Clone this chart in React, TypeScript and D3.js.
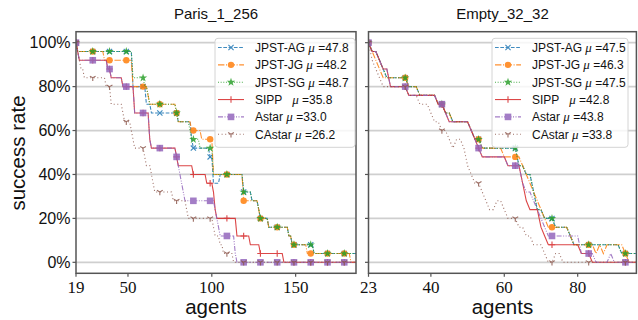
import React from "react";
import * as d3 from "d3";

type Pt = [number, number];

const seriesNames = ["JPST-AG", "JPST-JG", "JPST-SG", "SIPP", "Astar", "CAstar"];
const parisMeans = [47.8, 48.2, 48.7, 35.8, 33.0, 26.2];
const emptyMeans = [47.5, 46.3, 47.5, 42.8, 43.8, 33.8];
const parisTicks = [19, 50, 100, 150];
const emptyTicks = [23, 40, 60, 80];
const yTicks = [0, 20, 40, 60, 80, 100];

// success rate (%) at the agent counts where each curve bends
const parisAG: Pt[] = [[19,100],[20,96],[52,96],[53,80],[60,80],[61,72],[63,72],[64,68],[79,68],[80,64],[87,64],[88,56],[89,52],[98,52],[99,48],[100,48],[101,36],[104,36],[105,40],[118,40],[119,32],[123,32],[124,28],[127,28],[128,24],[129,20],[133,20],[134,16],[145,16],[146,12],[147,12],[148,8],[160,8],[161,4],[186,4]];
const parisJG: Pt[] = [[19,100],[20,96],[35,96],[36,92],[52,92],[53,80],[61,80],[62,76],[63,72],[78,72],[79,68],[80,64],[87,64],[88,60],[93,60],[94,56],[100,56],[101,40],[118,40],[119,28],[127,28],[128,24],[129,20],[133,20],[134,16],[145,16],[146,12],[147,12],[148,8],[156,8],[157,4],[182,4],[183,0],[186,0]];
const parisSG: Pt[] = [[19,100],[20,96],[52,96],[53,84],[59,84],[60,80],[61,80],[62,76],[63,72],[78,72],[79,68],[80,64],[86,64],[87,60],[88,56],[92,56],[93,52],[100,52],[101,40],[118,40],[119,32],[123,32],[124,28],[127,28],[128,24],[129,20],[133,20],[134,16],[145,16],[146,12],[147,12],[148,8],[160,8],[161,4],[186,4]];
const parisSIPP: Pt[] = [[19,100],[20,96],[21,92],[37,92],[38,88],[39,88],[40,84],[46,84],[47,80],[53,80],[54,68],[62,68],[63,56],[64,52],[78,52],[79,48],[80,44],[88,44],[89,40],[96,40],[97,36],[100,36],[101,32],[102,24],[103,20],[114,20],[115,12],[122,12],[123,8],[128,8],[129,4],[142,4],[143,0],[186,0]];
const parisAstar: Pt[] = [[19,100],[20,96],[21,92],[37,92],[38,88],[39,88],[40,84],[46,84],[47,80],[53,80],[54,68],[62,68],[63,56],[64,52],[78,52],[79,48],[80,44],[81,40],[82,36],[83,32],[84,28],[101,28],[102,24],[103,20],[104,16],[105,12],[113,12],[114,4],[115,0],[186,0]];
const parisCAstar: Pt[] = [[19,100],[20,96],[21,92],[22,88],[23,88],[24,84],[36,84],[37,80],[39,80],[40,72],[46,72],[47,68],[48,64],[51,64],[52,60],[53,56],[54,52],[59,52],[60,48],[61,44],[63,44],[64,40],[65,36],[66,32],[76,32],[77,28],[84,28],[85,24],[86,20],[100,20],[101,16],[102,12],[104,12],[105,8],[106,8],[107,4],[112,4],[113,0],[186,0]];

const emptyAG: Pt[] = [[23,100],[24,96],[25,96],[26,92],[27,88],[28,84],[33,84],[34,80],[36,80],[37,76],[41,76],[42,72],[43,72],[44,68],[45,68],[46,64],[50,64],[51,60],[52,56],[53,56],[54,52],[63,52],[64,44],[65,44],[66,40],[67,40],[68,32],[69,24],[70,24],[71,20],[73,20],[74,16],[77,16],[78,12],[79,8],[91,8],[92,4],[96,4]];
const emptyJG: Pt[] = [[23,100],[24,96],[25,92],[26,88],[27,84],[33,84],[34,80],[36,80],[37,76],[41,76],[42,72],[43,72],[44,68],[45,68],[46,64],[50,64],[51,60],[52,56],[53,56],[54,52],[59,52],[60,48],[64,48],[65,44],[66,40],[67,36],[68,32],[69,28],[70,24],[71,20],[72,16],[77,16],[78,12],[79,8],[84,8],[85,4],[86,8],[87,4],[88,8],[92,8],[93,4],[94,0],[96,0]];
const emptySG: Pt[] = [[23,100],[24,96],[25,96],[26,92],[27,88],[28,84],[33,84],[34,80],[36,80],[37,76],[41,76],[42,72],[43,72],[44,68],[45,68],[46,64],[50,64],[51,60],[52,56],[53,56],[54,52],[63,52],[64,44],[65,44],[66,40],[67,40],[68,32],[69,24],[70,24],[71,20],[73,20],[74,16],[77,16],[78,12],[79,8],[91,8],[92,4],[96,4]];
const emptySIPP: Pt[] = [[23,100],[24,96],[25,96],[26,92],[27,88],[28,88],[29,80],[33,80],[34,76],[41,76],[42,72],[43,72],[44,68],[45,64],[50,64],[51,60],[52,56],[53,52],[54,48],[60,48],[61,44],[64,44],[65,36],[66,28],[67,24],[69,24],[70,16],[71,12],[72,8],[80,8],[81,4],[83,4],[84,0],[96,0]];
const emptyAstar: Pt[] = [[23,100],[24,96],[25,96],[26,92],[27,88],[28,88],[29,80],[33,80],[34,76],[41,76],[42,72],[43,72],[44,68],[45,64],[50,64],[51,60],[52,56],[53,52],[54,48],[60,48],[61,44],[64,44],[65,36],[66,32],[67,32],[68,28],[69,24],[70,20],[71,16],[72,12],[80,12],[81,4],[84,4],[85,0],[88,0],[89,4],[90,0],[96,0]];
const emptyCAstar: Pt[] = [[23,100],[24,92],[25,88],[26,84],[27,80],[33,80],[34,76],[36,76],[37,72],[39,72],[40,68],[41,64],[42,64],[43,60],[44,60],[45,56],[46,52],[47,56],[48,56],[49,52],[50,44],[51,40],[52,36],[53,36],[54,32],[55,28],[56,24],[57,24],[58,28],[59,28],[60,24],[61,20],[63,20],[64,16],[65,16],[66,12],[67,12],[68,8],[70,8],[71,4],[72,0],[73,0],[74,4],[75,4],[76,0],[96,0]];

const colors = ["#1f77b4", "#ff7f0e", "#2ca02c", "#d62728", "#9467bd", "#8c564b"];
const dashes = ["3.7,1.6", "6.4,1.6,1,1.6", "1,1.65", "none", "5,1.5,1,1.5,1,1.5", "1,2.6"];
const markerKinds = ["x", "o", "*", "+", "s", "1"];

const W = 638, H = 320;
const yTop = 31.7, yBot = 273.3;
const y = d3.scaleLinear().domain([-5, 105]).range([yBot, yTop]);

const panels = [
  { title: "Paris_1_256", x0: 76, x1: 356, domain: [19, 186], ticks: parisTicks, means: parisMeans,
    series: [parisAG, parisJG, parisSG, parisSIPP, parisAstar, parisCAstar], legendX: 215, legendW: 140, yLabels: true },
  { title: "Empty_32_32", x0: 368.5, x1: 636.4, domain: [23, 96], ticks: emptyTicks, means: emptyMeans,
    series: [emptyAG, emptyJG, emptySG, emptySIPP, emptyAstar, emptyCAstar], legendX: 492, legendW: 136, yLabels: false },
];

function valueAt(pts: Pt[], a: number) {
  for (let i = 0; i < pts.length - 1; i++) {
    const [a0, v0] = pts[i];
    const [a1, v1] = pts[i + 1];
    if (a >= a0 && a <= a1) return a1 === a0 ? v1 : v0 + ((v1 - v0) * (a - a0)) / (a1 - a0);
  }
  return pts[pts.length - 1][1];
}

const starPath = d3.symbol(d3.symbolStar, 22)() as string;

function Marker({ kind, cx, cy, color }: { kind: string; cx: number; cy: number; color: string }) {
  if (kind === "x")
    return <path d={`M${cx - 2.6},${cy - 2.6}L${cx + 2.6},${cy + 2.6}M${cx - 2.6},${cy + 2.6}L${cx + 2.6},${cy - 2.6}`} stroke={color} strokeWidth={1.1} />;
  if (kind === "o") return <circle cx={cx} cy={cy} r={3.2} fill={color} />;
  if (kind === "*") return <path transform={`translate(${cx},${cy})`} d={starPath} fill={color} />;
  if (kind === "+")
    return <path d={`M${cx - 3.2},${cy}H${cx + 3.2}M${cx},${cy - 3.2}V${cy + 3.2}`} stroke={color} strokeWidth={1.1} />;
  if (kind === "s") return <rect x={cx - 3.3} y={cy - 3.3} width={6.6} height={6.6} fill={color} />;
  return <path d={`M${cx},${cy}V${cy + 3.3}M${cx},${cy}L${cx - 2.9},${cy - 1.7}M${cx},${cy}L${cx + 2.9},${cy - 1.7}`} stroke={color} strokeWidth={1.1} />;
}

function Panel({ p, idx }: { p: (typeof panels)[number]; idx: number }) {
  const x = d3.scaleLinear().domain(p.domain).range([p.x0, p.x1]);
  const line = d3.line<Pt>().x((d) => x(d[0])).y((d) => y(d[1]));
  const clipId = `clip${idx}`;
  const rowY = (i: number) => 47.5 + i * 17.35;
  return (
    <g>
      <defs>
        <clipPath id={clipId}>
          <rect x={p.x0} y={yTop} width={p.x1 - p.x0} height={yBot - yTop} />
        </clipPath>
      </defs>
      {yTicks.map((t) => (
        <line key={t} x1={p.x0} x2={p.x1} y1={y(t)} y2={y(t)} stroke="#cfcfcf" strokeWidth={1.8} />
      ))}
      <g clipPath={`url(#${clipId})`}>
        {p.series.map((s, i) => {
          const marks = d3.range(p.domain[0], s[s.length - 1][0] + 1, 10);
          return (
            <g key={i} opacity={0.85}>
              <path d={line(s) as string} fill="none" stroke={colors[i]} strokeWidth={1.1}
                strokeDasharray={dashes[i]} />
              {marks.map((a) => (
                <Marker key={a} kind={markerKinds[i]} cx={x(a)} cy={y(valueAt(s, a))} color={colors[i]} />
              ))}
            </g>
          );
        })}
      </g>
      <rect x={p.x0} y={yTop} width={p.x1 - p.x0} height={yBot - yTop} fill="none" stroke="#555" strokeWidth={1.5} />
      {yTicks.map((t) => (
        <g key={t}>
          <line x1={p.x0 - 3.5} x2={p.x0} y1={y(t)} y2={y(t)} stroke="#555" strokeWidth={1.2} />
          {p.yLabels && (
            <text x={p.x0 - 5.5} y={y(t)} dy="0.36em" textAnchor="end" fontSize={16}
              fontFamily="Liberation Sans, sans-serif" fill="#111">{`${t}%`}</text>
          )}
        </g>
      ))}
      {p.ticks.map((t) => (
        <g key={t}>
          <line x1={x(t)} x2={x(t)} y1={yBot} y2={yBot + 3.5} stroke="#555" strokeWidth={1.2} />
          <text x={x(t)} y={292.5} textAnchor="middle" fontSize={17}
            fontFamily="Liberation Serif, serif" fill="#111">{t}</text>
        </g>
      ))}
      <text x={(p.x0 + p.x1) / 2} y={19} textAnchor="middle" fontSize={15}
        fontFamily="Liberation Sans, sans-serif" fill="#111">{p.title}</text>
      <text x={(p.x0 + p.x1) / 2} y={314} textAnchor="middle" fontSize={20.5}
        fontFamily="Liberation Sans, sans-serif" fill="#111">agents</text>
      <rect x={p.legendX} y={38.3} width={p.legendW} height={109} rx={3} fill="#fff" fillOpacity={0.8}
        stroke="#d4d4d4" strokeWidth={1} />
      {seriesNames.map((n, i) => (
        <g key={n} opacity={0.85}>
          <line x1={p.legendX + 3} x2={p.legendX + 29} y1={rowY(i)} y2={rowY(i)} stroke={colors[i]}
            strokeWidth={1.1} strokeDasharray={dashes[i]} />
          <Marker kind={markerKinds[i]} cx={p.legendX + 16} cy={rowY(i)} color={colors[i]} />
        </g>
      ))}
      {seriesNames.map((n, i) => (
        <text key={n} x={p.legendX + 40} y={rowY(i)} dy="0.36em" fontSize={12}
          fontFamily="Liberation Sans, sans-serif" fill="#111" style={{ whiteSpace: "pre" }}>
          {n === "SIPP" ? "SIPP   " : `${n} `}
          <tspan fontFamily="Liberation Serif, serif" fontStyle="italic" fontSize={13}>μ</tspan>
          {` =${p.means[i].toFixed(1)}`}
        </text>
      ))}
    </g>
  );
}

export default function App() {
  return (
    <svg width={W} height={H} style={{ position: "absolute", left: 0, top: 0, background: "#fff" }}>
      {panels.map((p, i) => (
        <Panel key={i} p={p} idx={i} />
      ))}
      <text transform="translate(25,153) rotate(-90)" textAnchor="middle" fontSize={20.5}
        fontFamily="Liberation Sans, sans-serif" fill="#111">success rate</text>
    </svg>
  );
}
